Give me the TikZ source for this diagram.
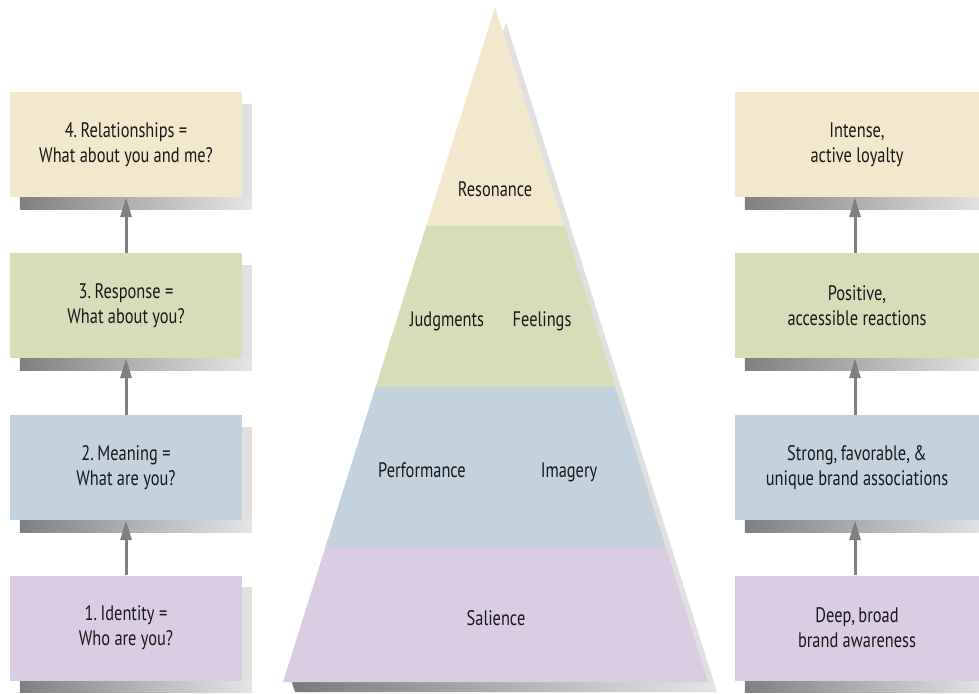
\documentclass[tikz,border=0pt]{standalone}
\usepackage{fontspec}
\setmainfont{PT Sans}[FakeStretch=0.78]
\usetikzlibrary{arrows.meta}
\definecolor{cbeige}{RGB}{241,232,205}
\definecolor{cgreen}{RGB}{214,221,184}
\definecolor{cblue}{RGB}{196,210,222}
\definecolor{cpurple}{RGB}{218,205,227}
\tikzset{
  lvl/.style={rectangle, inner sep=0pt, minimum width=232pt, minimum height=105pt,
    align=center, font=\fontsize{21}{25}\selectfont, text=black!90},
  rlvl/.style={lvl, minimum width=244pt},
  plabel/.style={inner sep=0pt, anchor=base, font=\fontsize{21}{25}\selectfont, text=black!90},
  uparr/.style={draw=black!50, line width=3pt, -{Triangle[length=20pt,width=11pt]}},
}
\newcommand{\boxshadow}[1]{%
  \fill[black!12] ([xshift=10pt,yshift=-12pt]#1.south west) rectangle ([xshift=10pt,yshift=-12pt]#1.north east);
  \shade[left color=black!50, right color=black!10] ([xshift=10pt,yshift=-12pt]#1.south west) rectangle ([xshift=10pt]#1.south east);
}
\begin{document}
\begin{tikzpicture}[x=1pt,y=-1pt]
\useasboundingbox (0,0) rectangle (979,693);
% pyramid shadow
\fill[black!12] (506,22) -- (717,692) -- (295,692) -- cycle;
\shade[left color=black!52, right color=black!10] (291.8,682) -- (713.8,682) -- (717,692) -- (295,692) -- cycle;
% pyramid layers
\fill[cbeige] (495,7) -- (426.2,226) -- (564.4,226) -- cycle;
\fill[cgreen] (426.2,226) -- (564.4,226) -- (615.2,387) -- (375.6,387) -- cycle;
\fill[cblue] (375.6,387) -- (615.2,387) -- (665.7,547) -- (325.4,547) -- cycle;
\fill[cpurple] (325.4,547) -- (665.7,547) -- (708,682) -- (283,682) -- cycle;
\node[plabel] (res) at (495,196) {Resonance};
\node[plabel] (jud) at (447,326) {Judgments};
\node[plabel] (fee) at (542,326) {Feelings};
\node[plabel] (per) at (422,477) {Performance};
\node[plabel] (ima) at (569,477) {Imagery};
\node[plabel] (sal) at (496,625) {Salience};
% box positions
\path node[lvl] (L4) at (126,144.5) {}
      node[lvl] (L3) at (126,305.5) {}
      node[lvl] (L2) at (126,467.5) {}
      node[lvl] (L1) at (126,628) {}
      node[rlvl] (R4) at (857,144.5) {}
      node[rlvl] (R3) at (857,305.5) {}
      node[rlvl] (R2) at (857,467.5) {}
      node[rlvl] (R1) at (857,628) {};
\boxshadow{L4}\boxshadow{L3}\boxshadow{L2}\boxshadow{L1}
\boxshadow{R4}\boxshadow{R3}\boxshadow{R2}\boxshadow{R1}
\node[lvl, fill=cbeige] at (L4) {4.\,Relationships =\\What about you and me?};
\node[lvl, fill=cgreen] at (L3) {3.\,Response =\\What about you?};
\node[lvl, fill=cblue] at (L2) {2.\,Meaning =\\What are you?};
\node[lvl, fill=cpurple] at (L1) {1.\,Identity =\\Who are you?};
\node[rlvl, fill=cbeige] at (R4) {Intense,\\active loyalty};
\node[rlvl, fill=cgreen] at (R3) {Positive,\\accessible reactions};
\node[rlvl, fill=cblue] at (R2) {Strong,\,favorable,\,\&\\unique brand associations};
\node[rlvl, fill=cpurple] at (R1) {Deep,\,broad\\brand awareness};
% arrows
\draw[uparr] (L1.north) -- (L2.south);
\draw[uparr] (L2.north) -- (L3.south);
\draw[uparr] (L3.north) -- (L4.south);
\draw[uparr] ([xshift=-2pt]R1.north) -- ([xshift=-2pt]R2.south);
\draw[uparr] ([xshift=-2pt]R2.north) -- ([xshift=-2pt]R3.south);
\draw[uparr] ([xshift=-2pt]R3.north) -- ([xshift=-2pt]R4.south);
\end{tikzpicture}
\end{document}
